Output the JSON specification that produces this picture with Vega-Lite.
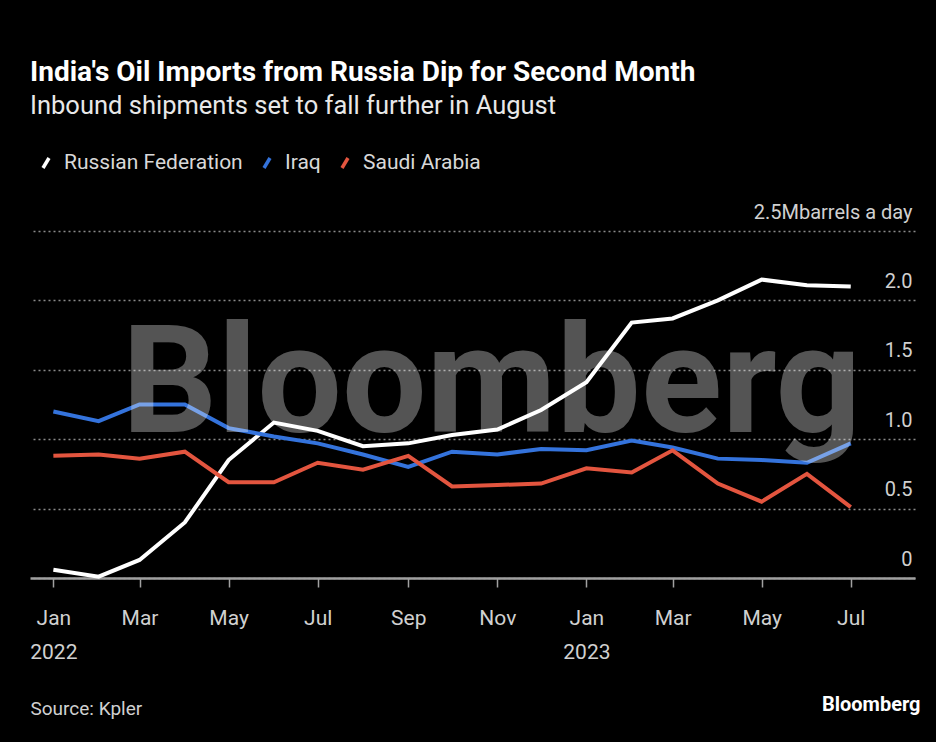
{
  "$schema": "https://vega.github.io/schema/vega-lite/v6.json",
  "width": 885,
  "height": 347,
  "autosize": "none",
  "padding": {"left": 30, "top": 231, "right": 21, "bottom": 164},
  "background": "#000000",
  "config": {
    "font": "Roboto",
    "view": {"stroke": null}
  },
  "title": {
    "text": "India's Oil Imports from Russia Dip for Second Month",
    "subtitle": "Inbound shipments set to fall further in August",
    "anchor": "start",
    "frame": "group",
    "offset": 32,
    "fontSize": 28,
    "fontWeight": "bold",
    "color": "#ffffff",
    "subtitleFontSize": 25.5,
    "subtitleFontWeight": "normal",
    "subtitleColor": "#e8e8e8",
    "subtitlePadding": 7,
    "font": "Roboto",
    "subtitleFont": "Roboto"
  },
  "datasets": {
    "imports": [
      {"date": "2022-01-01", "country": "Russian Federation", "value": 0.06},
      {"date": "2022-02-01", "country": "Russian Federation", "value": 0.01},
      {"date": "2022-03-01", "country": "Russian Federation", "value": 0.13},
      {"date": "2022-04-01", "country": "Russian Federation", "value": 0.40},
      {"date": "2022-05-01", "country": "Russian Federation", "value": 0.85},
      {"date": "2022-06-01", "country": "Russian Federation", "value": 1.12},
      {"date": "2022-07-01", "country": "Russian Federation", "value": 1.06},
      {"date": "2022-08-01", "country": "Russian Federation", "value": 0.95},
      {"date": "2022-09-01", "country": "Russian Federation", "value": 0.97},
      {"date": "2022-10-01", "country": "Russian Federation", "value": 1.03},
      {"date": "2022-11-01", "country": "Russian Federation", "value": 1.07},
      {"date": "2022-12-01", "country": "Russian Federation", "value": 1.21},
      {"date": "2023-01-01", "country": "Russian Federation", "value": 1.41},
      {"date": "2023-02-01", "country": "Russian Federation", "value": 1.84},
      {"date": "2023-03-01", "country": "Russian Federation", "value": 1.87},
      {"date": "2023-04-01", "country": "Russian Federation", "value": 2.00},
      {"date": "2023-05-01", "country": "Russian Federation", "value": 2.15},
      {"date": "2023-06-01", "country": "Russian Federation", "value": 2.11},
      {"date": "2023-07-01", "country": "Russian Federation", "value": 2.10},
      {"date": "2022-01-01", "country": "Iraq", "value": 1.20},
      {"date": "2022-02-01", "country": "Iraq", "value": 1.13},
      {"date": "2022-03-01", "country": "Iraq", "value": 1.25},
      {"date": "2022-04-01", "country": "Iraq", "value": 1.25},
      {"date": "2022-05-01", "country": "Iraq", "value": 1.08},
      {"date": "2022-06-01", "country": "Iraq", "value": 1.02},
      {"date": "2022-07-01", "country": "Iraq", "value": 0.97},
      {"date": "2022-08-01", "country": "Iraq", "value": 0.89},
      {"date": "2022-09-01", "country": "Iraq", "value": 0.80},
      {"date": "2022-10-01", "country": "Iraq", "value": 0.91},
      {"date": "2022-11-01", "country": "Iraq", "value": 0.89},
      {"date": "2022-12-01", "country": "Iraq", "value": 0.93},
      {"date": "2023-01-01", "country": "Iraq", "value": 0.92},
      {"date": "2023-02-01", "country": "Iraq", "value": 0.99},
      {"date": "2023-03-01", "country": "Iraq", "value": 0.94},
      {"date": "2023-04-01", "country": "Iraq", "value": 0.86},
      {"date": "2023-05-01", "country": "Iraq", "value": 0.85},
      {"date": "2023-06-01", "country": "Iraq", "value": 0.83},
      {"date": "2023-07-01", "country": "Iraq", "value": 0.97},
      {"date": "2022-01-01", "country": "Saudi Arabia", "value": 0.88},
      {"date": "2022-02-01", "country": "Saudi Arabia", "value": 0.89},
      {"date": "2022-03-01", "country": "Saudi Arabia", "value": 0.86},
      {"date": "2022-04-01", "country": "Saudi Arabia", "value": 0.91},
      {"date": "2022-05-01", "country": "Saudi Arabia", "value": 0.69},
      {"date": "2022-06-01", "country": "Saudi Arabia", "value": 0.69},
      {"date": "2022-07-01", "country": "Saudi Arabia", "value": 0.83},
      {"date": "2022-08-01", "country": "Saudi Arabia", "value": 0.78},
      {"date": "2022-09-01", "country": "Saudi Arabia", "value": 0.88},
      {"date": "2022-10-01", "country": "Saudi Arabia", "value": 0.66},
      {"date": "2022-11-01", "country": "Saudi Arabia", "value": 0.67},
      {"date": "2022-12-01", "country": "Saudi Arabia", "value": 0.68},
      {"date": "2023-01-01", "country": "Saudi Arabia", "value": 0.79},
      {"date": "2023-02-01", "country": "Saudi Arabia", "value": 0.76},
      {"date": "2023-03-01", "country": "Saudi Arabia", "value": 0.92},
      {"date": "2023-04-01", "country": "Saudi Arabia", "value": 0.68},
      {"date": "2023-05-01", "country": "Saudi Arabia", "value": 0.55},
      {"date": "2023-06-01", "country": "Saudi Arabia", "value": 0.75},
      {"date": "2023-07-01", "country": "Saudi Arabia", "value": 0.51}
    ],
    "watermark": [{"word": "Bloomberg"}]
  },
  "layer": [
    {
      "data": {"name": "imports"},
      "mark": {"type": "line", "strokeWidth": 4, "strokeJoin": "miter"},
      "encoding": {
        "x": {
          "field": "date",
          "type": "temporal",
          "scale": {"type": "utc", "domain": ["2021-12-16", "2023-08-14"]},
          "axis": {
            "title": "Source: Kpler",
            "titleAnchor": "start",
            "titleAlign": "left",
            "titleBaseline": "alphabetic",
            "titleX": 0,
            "titleY": 136,
            "titleFontSize": 19,
            "titleFontWeight": "normal",
            "titleColor": "#d0d0d0",
            "tickCount": {"interval": "month", "step": 2},
            "labelExpr": "utcmonth(datum.value) == 0 ? [utcFormat(datum.value, '%b'), utcFormat(datum.value, '%Y')] : utcFormat(datum.value, '%b')",
            "labelFontSize": 21,
            "labelColor": "#d0d0d0",
            "labelLineHeight": 34,
            "labelPadding": 20,
            "labelFlush": false,
            "labelOverlap": false,
            "labelBaseline": "top",
            "tickSize": 9,
            "tickWidth": 1.5,
            "tickColor": "#a0a0a0",
            "domainColor": "#a0a0a0",
            "domainWidth": 2.5,
            "grid": false
          }
        },
        "y": {
          "field": "value",
          "type": "quantitative",
          "scale": {"domain": [0, 2.5], "nice": false},
          "axis": {
            "orient": "right",
            "values": [0, 0.5, 1, 1.5, 2, 2.5],
            "labelExpr": "datum.value == 2.5 ? '2.5Mbarrels a day' : datum.value == 0 ? '0' : format(datum.value, '.1f')",
            "labelAlign": "right",
            "labelBaseline": "alphabetic",
            "labelOffset": -13,
            "labelPadding": -3,
            "labelFontSize": 20,
            "labelColor": "#d0d0d0",
            "labelFlush": false,
            "labelOverlap": false,
            "labelBound": false,
            "labelLimit": 0,
            "ticks": false,
            "tickSize": 0,
            "domain": false,
            "grid": true,
            "gridColor": "#8a8a8a",
            "gridDash": [2, 3],
            "gridWidth": 1.5,
            "title": "Bloomberg",
            "titleAngle": 0,
            "titleAlign": "right",
            "titleBaseline": "alphabetic",
            "titleX": 5,
            "titleY": 479,
            "titleFontSize": 20,
            "titleFontWeight": "bold",
            "titleColor": "#ffffff"
          }
        },
        "color": {
          "field": "country",
          "type": "nominal",
          "scale": {
            "domain": ["Russian Federation", "Iraq", "Saudi Arabia"],
            "range": ["#ffffff", "#3473dc", "#e3553f"]
          },
          "legend": {
            "title": null,
            "orient": "none",
            "direction": "horizontal",
            "legendX": 4,
            "legendY": -80,
            "symbolType": "M-0.3,0.5L0.3,-0.5",
            "symbolSize": 400,
            "symbolStrokeWidth": 3.5,
            "labelFontSize": 21,
            "labelLimit": 0,
            "labelColor": "#d8d8d8",
            "labelOffset": 6,
            "columnPadding": 12
          }
        }
      }
    },
    {
      "data": {"name": "watermark"},
      "mark": {
        "type": "text",
        "font": "Roboto",
        "fontWeight": "bold",
        "fontSize": 150,
        "fill": "#ffffff",
        "opacity": 0.33,
        "align": "center",
        "baseline": "alphabetic"
      },
      "encoding": {
        "text": {"field": "word"},
        "x": {"datum": {"year": 2022, "month": 10, "date": 28, "utc": true}, "type": "temporal"},
        "y": {"datum": 1.05, "type": "quantitative"}
      }
    }
  ]
}
